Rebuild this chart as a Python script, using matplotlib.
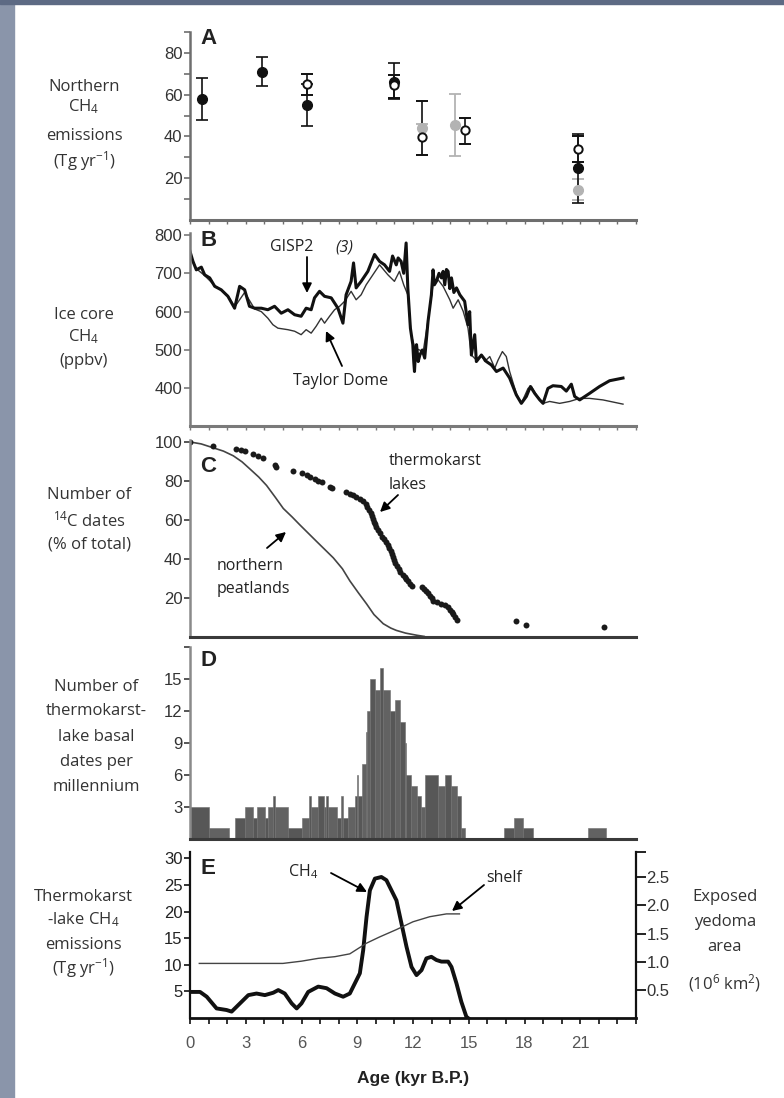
import numpy as np
import matplotlib.pyplot as plt
from matplotlib.patches import Rectangle, FancyArrowPatch

plt.rcParams['font.family'] = ['Open Sans', 'DejaVu Sans']
plt.rcParams['mathtext.fontset'] = 'custom'
plt.rcParams['mathtext.rm'] = 'Open Sans'
plt.rcParams['mathtext.it'] = 'Open Sans:italic'
plt.rcParams['mathtext.bf'] = 'Open Sans:bold'
plt.rcParams['mathtext.default'] = 'regular'

# ---- A: northern CH4 emission estimates (Tg/yr) ----
a_age_black = [0.63, 3.87, 6.27, 10.97, 20.9]
a_val_black = [58, 71, 55, 66, 25]
a_lo_black = [10, 7, 10, 8, 17]
a_hi_black = [10, 7, 10, 9, 16]

a_age_open = [6.27, 10.97, 12.5, 14.8, 20.9]
a_val_open = [65, 64.5, 39.5, 43, 34]
a_lo_open = [5, 6, 8.5, 6.5, 6]
a_hi_open = [5, 5, 17.5, 6, 6]

a_age_grey = [12.5, 14.25, 20.9]
a_val_grey = [44, 45.5, 14.5]
a_lo_grey = [13, 15, 5]
a_hi_grey = [2, 15, 5]

# ---- B: ice core CH4 (ppbv) ----
gisp_age = [0.0, 0.16, 0.34, 0.61, 0.79, 1.06, 1.33, 1.68, 2.04, 2.4, 2.67, 2.94,
            3.2, 3.48, 3.84, 4.19, 4.55, 4.91, 5.27, 5.63, 5.98, 6.25, 6.52, 6.7,
            6.97, 7.24, 7.6, 7.96, 8.23, 8.4, 8.67, 8.8, 8.94, 9.21, 9.57, 9.93,
            10.2, 10.47, 10.74, 10.9, 11.1, 11.2, 11.36, 11.5, 11.63, 11.72, 11.86,
            11.99, 12.04, 12.08, 12.14, 12.19, 12.28, 12.37, 12.5, 12.63, 12.81,
            12.99, 13.08, 13.15, 13.26, 13.4, 13.53, 13.62, 13.71, 13.8, 13.89,
            13.98, 14.07, 14.2, 14.34, 14.52, 14.78, 14.96, 15.05, 15.14, 15.32,
            15.41, 15.68, 15.95, 16.22, 16.49, 16.85, 17.2, 17.56, 17.83, 18.1,
            18.32, 18.55, 18.82, 19.0, 19.26, 19.53, 19.98, 20.25, 20.52, 20.7,
            20.97, 21.5, 22.04, 22.58, 23.3]
gisp_ch4 = [757, 731, 709, 716, 696, 688, 666, 657, 640, 609, 666, 657,
            614, 609, 609, 605, 614, 596, 605, 592, 588, 609, 605, 636,
            653, 640, 636, 609, 570, 644, 679, 727, 662, 679, 705, 749,
            731, 722, 705, 745, 722, 740, 731, 700, 779, 662, 557,
            514, 470, 444, 500, 514, 470, 487, 500, 479, 575,
            644, 709, 670, 679, 700, 688, 705, 670, 710, 705,
            660, 688, 650, 662, 644, 627, 566, 600, 487, 540,
            470, 487, 470, 461, 444, 453, 427, 383, 361, 379,
            405, 387, 370, 361, 400, 407, 405, 393, 411, 379,
            370, 387, 405, 420, 427]

taylor_age = [0.0, 0.34, 0.79, 1.33, 2.04, 2.4, 2.94, 3.48, 3.84, 4.19, 4.46,
              4.73, 5.27, 5.63, 5.98, 6.25, 6.52, 6.79, 7.06, 7.24, 7.51, 7.78,
              8.05, 8.32, 8.67, 8.94, 9.21, 9.48, 9.84, 10.2, 10.65, 11.0, 11.27,
              11.5, 11.72, 11.9, 12.1, 12.55, 12.8, 13.08, 13.35, 13.62, 13.98,
              14.16, 14.43, 14.7, 14.96, 15.14, 15.41, 15.68, 15.86, 16.13, 16.4,
              16.58, 16.81, 17.02, 17.2, 17.56, 17.83, 18.19, 18.37, 18.64, 19.0,
              19.35, 19.89, 20.43, 20.97, 21.5, 22.22, 23.3]
taylor_ch4 = [750, 712, 694, 668, 642, 612, 650, 607, 600, 583, 566,
              557, 553, 549, 540, 553, 544, 562, 583, 570, 588, 605,
              614, 627, 653, 631, 644, 670, 696, 722, 696, 679, 705,
              670, 644, 540, 505, 496, 575, 670, 683, 666, 631,
              609, 631, 601, 557, 487, 474, 487, 470, 483, 453,
              474, 496, 483, 444, 387, 361, 400, 405, 383, 361,
              366, 361, 366, 374, 374, 370, 359]

# ---- C: cumulative 14C dates (% of total) ----
peat_age = [0.0, 0.6, 1.25, 1.8, 2.33, 2.8, 3.23, 3.7, 4.12, 4.6, 5.02, 5.5,
            5.91, 6.81, 7.71, 8.2, 8.6, 9.05, 9.5, 9.9, 10.4, 10.8, 11.1, 11.6,
            12.2, 12.6]
peat_pct = [100, 99, 97, 95.3, 92.9, 89.8, 86.1, 82, 77.7, 71.5, 65.9, 61.5,
            57.5, 49, 40.6, 35, 28.8, 22.8, 17, 11.5, 6.8, 4.6, 3.4, 2.0,
            0.9, 0.3]

lake_age = [0.0, 1.25, 2.5, 2.75, 2.96, 3.4, 3.65, 3.94, 4.57, 4.65, 5.56, 6.0,
            6.27, 6.45, 6.72, 6.9, 7.08, 7.53, 7.65, 8.42, 8.6, 8.78, 8.95, 9.14,
            9.3, 9.45, 9.55, 9.65, 9.72, 9.78, 9.85, 9.9, 9.95, 10.02, 10.1, 10.2,
            10.32, 10.45, 10.57, 10.65, 10.72, 10.8, 10.86, 10.92, 10.98, 11.05,
            11.12, 11.22, 11.32, 11.45, 11.55, 11.65, 11.75, 11.85, 11.92, 12.46,
            12.6, 12.72, 12.81, 12.92, 13.0, 13.08, 13.3, 13.53, 13.7, 13.89, 14.0,
            14.1, 14.16, 14.27, 14.38, 17.56, 18.1, 22.26]
lake_pct = [100, 98, 96.6, 96, 95.4, 93.7, 93, 92, 88, 87, 85.3, 84,
            82.8, 82, 81, 80.2, 79.4, 77, 76.5, 74.3, 73.5, 72.7, 71.8, 70.9,
            69.5, 68, 66.5, 65, 63.5, 62, 60.5, 59, 58, 56.5, 55, 53.2,
            51.5, 50, 48.5, 47, 45.5, 44, 42.5, 41, 39.5, 38,
            36.5, 35, 33.5, 32, 31, 29.6, 28.5, 27.2, 26.2, 25.4,
            24.5, 23.5, 22.8, 21, 19.8, 18.6, 17.8, 17, 16.2, 15.2, 14,
            12.8, 11.9, 10.5, 8.9, 8, 6, 5.1]

# ---- D: thermokarst-lake basal dates per millennium ----
d_start = [0.0, 1.0, 2.4, 2.95, 3.4, 3.6, 4.05, 4.2, 4.45, 4.55, 5.3, 6.0, 6.4,
           6.5, 6.9, 7.2, 7.3, 7.45, 7.9, 8.15, 8.25, 8.5, 8.9, 9.0, 9.05, 9.25,
           9.45, 9.55, 9.7, 9.95, 10.2, 10.38, 10.78, 11.05, 11.3, 11.55, 11.65,
           11.9, 12.2, 12.45, 12.65, 13.35, 13.7, 14.05, 14.35, 14.6, 16.9,
           17.45, 17.9, 21.4]
d_end = [1.0, 2.1, 2.95, 3.4, 3.6, 4.05, 4.2, 4.45, 4.55, 5.3, 6.0, 6.4, 6.5,
         6.9, 7.2, 7.3, 7.45, 7.9, 8.15, 8.25, 8.5, 8.9, 9.0, 9.05, 9.25, 9.45,
         9.55, 9.7, 9.95, 10.2, 10.38, 10.78, 11.05, 11.3, 11.55, 11.65, 11.9,
         12.2, 12.45, 12.65, 13.35, 13.7, 14.05, 14.35, 14.6, 14.8, 17.45,
         17.9, 18.45, 22.4]
d_count = [3, 1, 2, 3, 2, 3, 2, 3, 4, 3, 1, 2, 4,
           3, 4, 3, 4, 3, 2, 4, 2, 3, 4, 6, 4, 7,
           10, 12, 15, 14, 16, 14, 12, 13, 11, 9, 6,
           5, 4, 3, 6, 5, 6, 5, 4, 1, 1,
           2, 1, 1]

# ---- E: thermokarst-lake CH4 emissions and exposed yedoma area ----
e_age = [0.0, 0.54, 0.9, 1.43, 1.97, 2.24, 2.69, 3.14, 3.58, 4.03, 4.48, 4.75,
         5.1, 5.47, 5.74, 6.0, 6.36, 6.9, 7.35, 7.8, 8.24, 8.6, 8.87, 9.14,
         9.32, 9.5, 9.68, 9.95, 10.3, 10.57, 10.84, 11.11, 11.38, 11.65, 11.92,
         12.19, 12.46, 12.72, 12.99, 13.26, 13.53, 13.89, 14.07, 14.34, 14.6,
         14.87, 14.96]
e_ch4 = [4.9, 4.9, 4.0, 1.8, 1.5, 1.2, 2.75, 4.3, 4.6, 4.3, 4.75, 5.25,
         4.6, 2.75, 1.8, 2.75, 4.9, 5.9, 5.6, 4.6, 4.0, 4.6, 6.5, 8.4,
         12.75, 19, 24, 26.2, 26.5, 25.9, 24, 22.1, 17.75, 13.4, 9.6,
         8.06, 9.0, 11.2, 11.5, 10.9, 10.6, 10.6, 9.6, 6.5, 3.06,
         0.25, 0.0]

shelf_age = [0.5, 5.0, 6.0, 6.9, 7.8, 8.6, 9.5, 10.2, 11.1, 12.0, 12.9, 13.8, 14.5]
shelf_area = [0.97, 0.97, 1.01, 1.06, 1.09, 1.14, 1.33, 1.44, 1.57, 1.71, 1.80,
              1.85, 1.85]

W, H = 784, 1098
fig = plt.figure(figsize=(W / 100, H / 100), dpi=100)


def fx(x):
    return x / W


def fy(y):
    return 1 - y / H


def make_axes(top, bottom):
    return fig.add_axes([fx(190), fy(bottom), fx(636) - fx(190), (bottom - top) / H])


def style(ax, spine_col, lw=1.8, bottom=True):
    for s in ['top', 'right']:
        ax.spines[s].set_visible(False)
    ax.spines['left'].set_color(spine_col)
    ax.spines['left'].set_linewidth(lw)
    ax.spines['bottom'].set_color(spine_col)
    ax.spines['bottom'].set_linewidth(lw + 0.4)
    ax.set_xlim(0, 24)
    ax.tick_params(axis='y', which='both', direction='out', length=4, width=1.2,
                   color=spine_col, pad=1.5, labelsize=12, labelcolor='#333333',
                   labelfontfamily='Liberation Sans')
    if bottom:
        ax.set_xticks(np.arange(0, 25, 1))
        ax.tick_params(axis='x', direction='out', length=3, width=1,
                       color=spine_col, labelbottom=False)
    else:
        ax.set_xticks([])


def ylab(lines, xc, ys, size=12):
    for t, y in zip(lines, ys):
        fig.text(fx(xc), fy(y), t, ha='center', va='center', fontsize=size,
                 color='#333333')


def note(x, y, t, **kw):
    fig.text(fx(x), fy(y), t, ha='left', va='center', fontsize=11.5,
             color='#222222', zorder=6, **kw)


def arrow(x0, y0, x1, y1):
    fig.add_artist(FancyArrowPatch((fx(x0), fy(y0)), (fx(x1), fy(y1)),
                                   transform=fig.transFigure, arrowstyle='-|>',
                                   mutation_scale=14, lw=1.3, color='k',
                                   shrinkA=0, shrinkB=0, zorder=6))


def letter(y, t):
    fig.text(fx(200), fy(y), t, ha='left', va='center', fontsize=16,
             fontweight='bold', family='Liberation Sans', color='#222222')


# side strips
fig.patches.append(Rectangle((0, 0), fx(14), 1, transform=fig.transFigure,
                             color='#8a95aa', zorder=-1))
fig.patches.append(Rectangle((0, fy(4)), 1, 4 / H, transform=fig.transFigure,
                             color='#5d6a84', zorder=-1))

# panel A
axA = make_axes(32, 220)
style(axA, '#6e6e6e')
axA.errorbar(a_age_grey, a_val_grey, yerr=[a_lo_grey, a_hi_grey], fmt='o',
             color='#b3b3b3', ms=7, capsize=4, elinewidth=1.3, capthick=1.3)
axA.errorbar(a_age_black, a_val_black, yerr=[a_lo_black, a_hi_black], fmt='o',
             color='#111111', ms=7, capsize=4, elinewidth=1.2, capthick=1.2)
axA.errorbar(a_age_open, a_val_open, yerr=[a_lo_open, a_hi_open], fmt='o',
             mfc='white', mec='#111111', mew=1.4, ecolor='#111111', ms=6,
             capsize=4, elinewidth=1.2, capthick=1.2)
axA.set_ylim(0, 90)
axA.set_yticks([20, 40, 60, 80])
axA.set_yticks([10, 30, 50, 70, 90], minor=True)
letter(38, 'A')
ylab(['Northern', 'CH$_4$', 'emissions', '(Tg yr$^{-1}$)'], 84, [87, 107, 136, 161])

# panel B
axB = make_axes(233, 426)
style(axB, '#7a7a7a')
axB.plot(taylor_age, taylor_ch4, color='#333333', lw=1.0)
axB.plot(gisp_age, gisp_ch4, color='#111111', lw=2.2)
axB.set_ylim(302, 805)
axB.set_yticks([400, 500, 600, 700, 800])
letter(241, 'B')
ylab(['Ice core', 'CH$_4$', '(ppbv)'], 84, [315, 337, 361])
note(270, 247, 'GISP2')
note(335, 247, '(3)', style='italic')
arrow(307, 257, 307, 293)
note(293, 381, 'Taylor Dome')
arrow(342, 366, 326, 331)

# panel C
axC = make_axes(440, 637)
style(axC, '#3a3a3a', bottom=False)
axC.spines['left'].set_color('#8a8a8a')
axC.plot(peat_age, peat_pct, color='#444444', lw=1.2)
axC.plot(lake_age, lake_pct, 'o', color='#1a1a1a', ms=4.3, mec='none')
axC.set_ylim(0, 101)
axC.set_yticks([20, 40, 60, 80, 100])
letter(466, 'C')
ylab(['Number of', '$^{14}$C dates', '(% of total)'], 89, [495, 520, 545])
note(389, 461, 'thermokarst')
note(389, 485, 'lakes')
arrow(398, 495, 380, 512)
note(217, 566, 'northern')
note(217, 589, 'peatlands')
arrow(267, 548, 286, 532)

# panel D
axD = make_axes(647, 839)
style(axD, '#3a3a3a', bottom=False)
axD.spines['left'].set_color('#8a8a8a')
widths = [e - s for s, e in zip(d_start, d_end)]
shades = ['#575757' if i % 2 == 0 else '#626262' for i in range(len(d_start))]
axD.bar(d_start, d_count, width=widths, align='edge', color=shades,
        edgecolor='#6e6e6e', lw=0.4)
axD.set_ylim(0, 18)
axD.set_yticks([3, 6, 9, 12, 15])
axD.set_yticks([18], minor=True)
letter(660, 'D')
ylab(['Number of', 'thermokarst-', 'lake basal', 'dates per', 'millennium'], 96,
     [687, 711, 737, 762, 787])

# panel E
axE = make_axes(852, 1018)
style(axE, '#111111', lw=1.6)
axE.plot(e_age, e_ch4, color='#111111', lw=2.8)
axE.set_ylim(0, 31.2)
axE.set_yticks([5, 10, 15, 20, 25, 30])
axE.set_xticks(np.arange(0, 22, 3))
axE.set_xticks(np.arange(0, 25, 1), minor=True)
axE.tick_params(axis='x', which='both', direction='out', length=4, width=1.2,
                color='#111111', labelbottom=True, pad=9, labelsize=12,
                labelcolor='#555555', labelfontfamily='Liberation Sans')
axE.tick_params(axis='y', labelcolor='#222222')
axE.set_xlabel('Age (kyr B.P.)', fontsize=12.5, fontweight='bold',
               family='Liberation Sans', color='#222222', labelpad=14)

axR = axE.twinx()
axR.spines['top'].set_visible(False)
axR.spines['left'].set_visible(False)
axR.spines['bottom'].set_visible(False)
axR.spines['right'].set_color('#111111')
axR.spines['right'].set_linewidth(1.6)
axR.plot(shelf_age, shelf_area, color='#444444', lw=1.0)
axR.set_ylim(0, 2.95)
axR.set_yticks([0.5, 1.0, 1.5, 2.0, 2.5, 2.95])
axR.set_yticklabels(['0.5', '1.0', '1.5', '2.0', '2.5', ''])
axR.tick_params(axis='y', direction='out', length=7, width=1.3, color='#111111',
                pad=0.5, labelsize=12, labelcolor='#333333',
                labelfontfamily='Liberation Sans')

letter(868, 'E')
ylab(['Thermokarst', '-lake CH$_4$', 'emissions', '(Tg yr$^{-1}$)'], 83,
     [897, 920, 945, 968])
ylab(['Exposed', 'yedoma', 'area', '(10$^6$ km$^2$)'], 725, [897, 922, 947, 983])
note(288, 872, 'CH$_4$')
arrow(331, 873, 367, 892)
note(486, 878, 'shelf')
arrow(484, 885, 452, 911)

fig.savefig('out.png', dpi=100)
